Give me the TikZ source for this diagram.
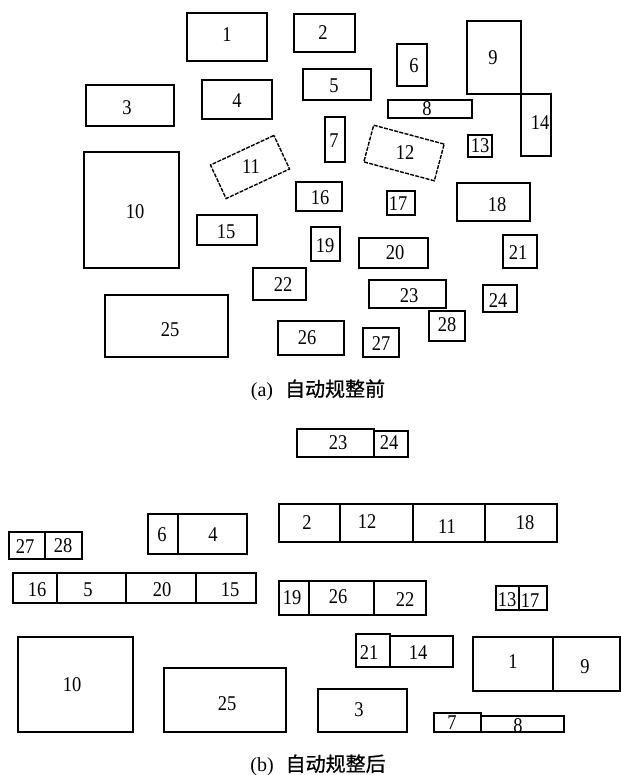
\documentclass[tikz,border=0pt]{standalone}
\usepackage{fontspec}
\setmainfont{Liberation Serif}
\newfontfamily\numfont[FakeStretch=0.88]{Liberation Serif}
\newfontfamily\cjk[FakeBold=0.9]{Noto Sans CJK SC}
% name, x1, y1, x2, y2, label, label x, label y  (pixel coordinates, y downwards)
\newcommand\rbox[8]{%
  \node[boxst, minimum width={(#4-#2)*1pt}, minimum height={(#5-#3)*1pt}]
    (#1) at ({(#2+#4)/2},{-(#3+#5)/2}) {};
  \node[lbl] (#1-t) at (#7,-#8) {#6};}
\begin{document}
\begin{tikzpicture}[x=1pt,y=1pt,
  boxst/.style={draw=black, line width=1.4pt, inner sep=0pt, outer sep=0pt, rectangle},
  dashbox/.style={dash pattern=on 4pt off 1.3pt},
  lbl/.style={font=\numfont\fontsize{21}{21}\selectfont, inner sep=0pt},
  captext/.style={font=\fontsize{20}{20}\selectfont, inner sep=0pt}]
\useasboundingbox (0,0) rectangle (621,-775);
% ---------------- (a) ----------------
\rbox{a1}{187}{13}{267}{61}{1}{227}{35}
\rbox{a2}{294}{14}{355}{52}{2}{323}{33}
\rbox{a3}{86}{85}{174}{126}{3}{127}{108}
\rbox{a4}{202}{80}{272}{119}{4}{237}{101}
\rbox{a5}{303}{69}{371}{100}{5}{334}{86}
\rbox{a6}{397}{44}{427}{86}{6}{414}{66}
\rbox{a7}{325}{117}{345}{162}{7}{334}{141}
\rbox{a8}{388}{100}{472}{118}{8}{427}{109}
\rbox{a9}{467}{21}{521}{94}{9}{493}{58}
\rbox{a10}{84}{152}{179}{268}{10}{135}{212}
\node[boxst, dashbox, rotate=25, minimum width=70pt, minimum height=37pt] (a11) at (250,-167) {};
\node[lbl] (a11-t) at (251,-167) {11};
\node[boxst, dashbox, rotate=-15, minimum width=73pt, minimum height=38pt] (a12) at (404,-153) {};
\node[lbl] (a12-t) at (405,-153) {12};
\rbox{a13}{468}{135}{492}{157}{13}{480}{146}
\rbox{a14}{521}{94}{551}{156}{14}{540}{123}
\rbox{a15}{197}{215}{257}{245}{15}{226}{232}
\rbox{a16}{296}{182}{342}{211}{16}{320}{198}
\rbox{a17}{387}{191}{415}{215}{17}{398}{204}
\rbox{a18}{457}{183}{530}{221}{18}{497}{205}
\rbox{a19}{311}{227}{340}{261}{19}{325}{246}
\rbox{a20}{359}{238}{428}{268}{20}{395}{253}
\rbox{a21}{503}{235}{537}{268}{21}{518}{253}
\rbox{a22}{253}{268}{306}{300}{22}{283}{285}
\rbox{a23}{369}{280}{446}{308}{23}{409}{296}
\rbox{a24}{483}{285}{517}{312}{24}{498}{301}
\rbox{a25}{105}{295}{228}{357}{25}{170}{330}
\rbox{a26}{278}{321}{344}{355}{26}{307}{338}
\rbox{a27}{363}{328}{399}{357}{27}{381}{344}
\rbox{a28}{429}{311}{465}{341}{28}{447}{325}
\node[captext] (capa) at (318,-390) {(a)\hspace{0.6em}{\cjk 自动规整前}};
% ---------------- (b) ----------------
\rbox{b23}{297}{429}{374}{457}{23}{338}{443}
\rbox{b24}{374}{431}{408}{457}{24}{389}{443}
\rbox{b2}{279}{504}{340}{542}{2}{307}{523}
\rbox{b12}{340}{504}{413}{542}{12}{367}{522}
\rbox{b11}{413}{504}{485}{542}{11}{447}{527}
\rbox{b18}{485}{504}{557}{542}{18}{525}{523}
\rbox{b19}{279}{581}{309}{615}{19}{292}{598}
\rbox{b26}{309}{581}{374}{615}{26}{338}{597}
\rbox{b22}{374}{581}{426}{615}{22}{405}{600}
\rbox{b13}{496}{586}{519}{610}{13}{507}{600}
\rbox{b17}{519}{586}{547}{610}{17}{530}{601}
\rbox{b27}{9}{532}{45}{559}{27}{25}{547}
\rbox{b28}{45}{532}{82}{559}{28}{63}{546}
\rbox{b6}{148}{514}{178}{554}{6}{162}{535}
\rbox{b4}{178}{514}{247}{554}{4}{213}{535}
\rbox{b16}{13}{573}{57}{603}{16}{37}{590}
\rbox{b5}{57}{573}{126}{603}{5}{88}{590}
\rbox{b20}{126}{573}{196}{603}{20}{162}{590}
\rbox{b15}{196}{573}{256}{603}{15}{230}{590}
\rbox{b10}{18}{637}{133}{732}{10}{72}{685}
\rbox{b25}{164}{668}{286}{732}{25}{227}{704}
\rbox{b21}{356}{634}{390}{667}{21}{369}{653}
\rbox{b14}{390}{636}{453}{667}{14}{418}{653}
\rbox{b1}{473}{637}{553}{691}{1}{513}{662}
\rbox{b9}{553}{637}{620}{691}{9}{585}{667}
\rbox{b3}{318}{689}{407}{732}{3}{359}{710}
\rbox{b7}{434}{713}{481}{732}{7}{452}{723}
\rbox{b8}{481}{716}{564}{732}{8}{518}{726}
\node[captext] (capb) at (318,-765) {(b)\hspace{0.6em}{\cjk 自动规整后}};
\end{tikzpicture}
\end{document}
